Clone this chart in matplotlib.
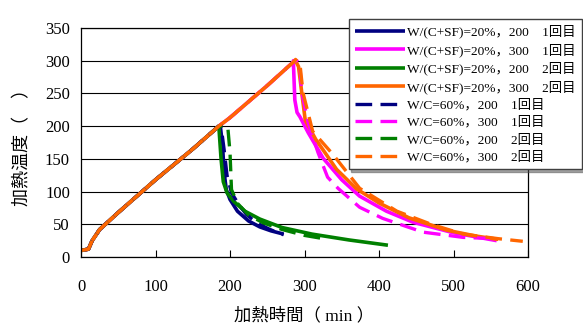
import numpy as np
import matplotlib.pyplot as plt

plt.rcParams['font.family'] = ['Liberation Serif', 'Noto Sans CJK JP']

# heating phase shared by all runs (time min, temperature)
heat_t = [0, 10, 15, 25, 50, 100, 150, 185]
heat_y = [10, 12, 25, 42, 68, 118, 165, 200]
heat300_t = [200, 250, 287]
heat300_y = [213, 262, 300]

# solid: W/(C+SF)=20%
s200_1_t = [187, 190, 192, 195, 200, 210, 225, 240, 255, 272]
s200_1_y = [200, 170, 130, 103, 88, 70, 55, 46, 40, 35]
s300_1_t = [285, 287, 290, 294, 305, 325, 350, 374, 410, 446, 500, 558]
s300_1_y = [300, 240, 221, 214, 190, 151, 118, 93, 70, 53, 37, 25]
s200_2_t = [185, 188, 191, 196, 205, 220, 240, 270, 310, 360, 412]
s200_2_y = [200, 150, 115, 98, 85, 70, 58, 45, 35, 26, 18]
s300_2_t = [288, 292, 297, 301, 315, 343, 370, 401, 440, 491, 530, 560]
s300_2_y = [300, 291, 245, 209, 180, 134, 104, 82, 60, 41, 32, 27]

# dashed: W/C=60%
d200_1_t = [188, 192, 196, 202, 212, 222, 236, 252, 262, 272]
d200_1_y = [200, 165, 125, 98, 80, 65, 52, 43, 38, 34]
d300_1_t = [290, 294, 296, 305, 318, 331, 345, 357, 374, 405, 428, 459, 513, 555]
d300_1_y = [300, 290, 253, 205, 160, 122, 105, 93, 76, 59, 50, 38, 30, 28]
d200_2_t = [191, 197, 200, 202, 210, 225, 245, 270, 300, 331]
d200_2_y = [200, 199, 160, 103, 82, 64, 52, 42, 33, 27]
d300_2_t = [288, 294, 298, 311, 338, 374, 424, 470, 513, 560, 593]
d300_2_y = [302, 294, 251, 192, 157, 105, 70, 50, 35, 28, 24]

navy = '#000080'
magenta = '#FF00FF'
green = '#008000'
orange = '#FF6600'

series = [
    ('W/(C+SF)=20%，200　1回目', s200_1_t, s200_1_y, navy, False, 200),
    ('W/(C+SF)=20%，300　1回目', s300_1_t, s300_1_y, magenta, False, 300),
    ('W/(C+SF)=20%，200　2回目', s200_2_t, s200_2_y, green, False, 200),
    ('W/(C+SF)=20%，300　2回目', s300_2_t, s300_2_y, orange, False, 300),
    ('W/C=60%，200　1回目', d200_1_t, d200_1_y, navy, True, 200),
    ('W/C=60%，300　1回目', d300_1_t, d300_1_y, magenta, True, 300),
    ('W/C=60%，200　2回目', d200_2_t, d200_2_y, green, True, 200),
    ('W/C=60%，300　2回目', d300_2_t, d300_2_y, orange, True, 300),
]

fig = plt.figure(figsize=(5.83, 3.24), dpi=100)
ax = fig.add_axes([81/583, 1-257/324, 447/583, 229/324])

for label, t, y, c, dashed, peak in series:
    if peak == 200:
        tt = heat_t + t
        yy = heat_y + y
    else:
        tt = heat_t + heat300_t + t
        yy = heat_y + heat300_y + y
    ls = (0, (5, 2.5)) if dashed else '-'
    ax.plot(tt, yy, color=c, lw=2.6 if not dashed else 2.4, ls=ls, label=label,
            solid_capstyle='butt', dash_capstyle='butt')

ax.set_xlim(0, 600)
ax.set_ylim(0, 350)
ax.set_xticks(np.arange(0, 601, 100))
ax.set_yticks(np.arange(0, 351, 50))
ax.grid(axis='y', color='black', lw=0.8)
ax.set_axisbelow(True)
ax.tick_params(axis='x', direction='in', length=5, labelsize=12, pad=16)
ax.tick_params(axis='y', length=0, labelsize=12, pad=8)
for s in ax.spines.values():
    s.set_linewidth(0.9)

ax.set_xlabel('加熱時間（ min ）', fontsize=12.5, labelpad=9)
ax.set_ylabel('加熱温度（　）', fontsize=13, labelpad=10)

leg = fig.legend(loc='upper left', bbox_to_anchor=(342/583, 1-12/324),
                 fontsize=9.6, frameon=True, fancybox=False, shadow=True,
                 handlelength=3.8, labelspacing=0.36, borderpad=0.45,
                 handletextpad=0.15)
leg.get_frame().set_edgecolor('#404040')
leg.get_frame().set_linewidth(1.0)

fig.savefig('out.png', dpi=100)
